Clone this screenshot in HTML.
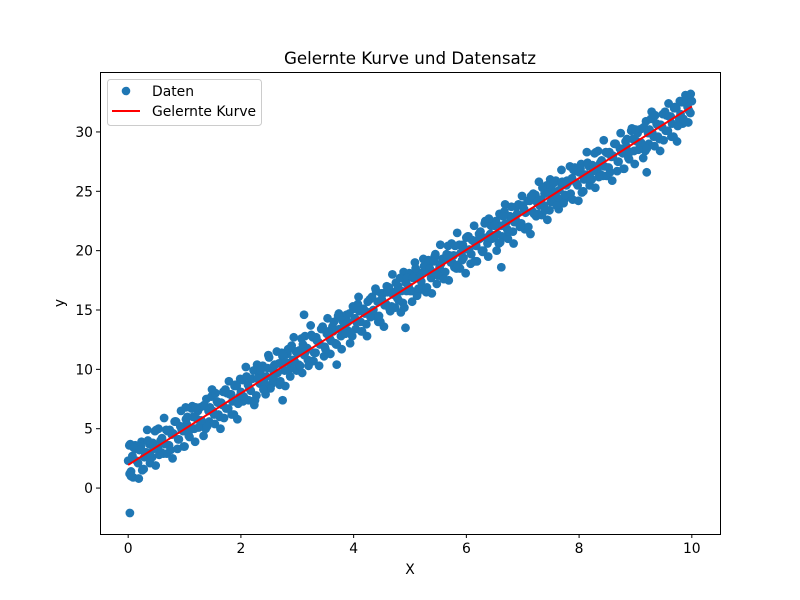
<!DOCTYPE html>
<html><head><meta charset="utf-8"><style>
body{margin:0;background:#fff;}
svg{display:block;font-family:"DejaVu Sans","Liberation Sans",sans-serif;}
</style></head><body>
<svg id="chart" width="800" height="600" viewBox="0 0 800 600">
<rect width="800" height="600" fill="#fff"/>
<text x="410" y="64" text-anchor="middle" font-size="16.7">Gelernte Kurve und Datensatz</text>
<g id="marks"></g>
<g id="axes"></g>
<rect x="100.5" y="72.5" width="620" height="462" fill="none" stroke="#000" stroke-width="1"/>
<text x="410" y="574" text-anchor="middle" font-size="13.9">X</text>
<text transform="translate(64,303) rotate(-90)" text-anchor="middle" font-size="13.9">y</text>
<g>
<rect x="107.5" y="79.5" width="154" height="46" rx="3" fill="#fff" fill-opacity="0.8" stroke="#ccc"/>
<circle cx="126" cy="91" r="4.3" fill="#1f77b4"/>
<text x="152" y="96" font-size="13.9">Daten</text>
<line x1="112" y1="111" x2="140" y2="111" stroke="red" stroke-width="2"/>
<text x="152" y="116" font-size="13.9">Gelernte Kurve</text>
</g>
</svg>
<script>
const xs=[0.00,0.05,0.10,0.15,0.20,0.25,0.30,0.35,0.40,0.45,0.50,0.55,0.60,0.65,0.70,0.75,0.80,0.85,0.90,0.95,1.00,1.05,1.10,1.15,1.20,1.25,1.30,1.35,1.40,1.45,1.50,1.55,1.60,1.65,1.70,1.75,1.80,1.85,1.90,1.95,2.00,2.05,2.10,2.15,2.20,2.25,2.30,2.35,2.40,2.45,2.50,2.55,2.60,2.65,2.70,2.75,2.80,2.85,2.90,2.95,3.00,3.05,3.10,3.15,3.20,3.25,3.30,3.35,3.40,3.45,3.50,3.55,3.60,3.65,3.70,3.75,3.80,3.85,3.90,3.95,4.00,4.05,4.10,4.15,4.20,4.25,4.30,4.35,4.40,4.45,4.50,4.55,4.60,4.65,4.70,4.75,4.80,4.85,4.90,4.95,5.00,5.05,5.10,5.15,5.20,5.25,5.30,5.35,5.40,5.45,5.50,5.55,5.60,5.65,5.70,5.75,5.80,5.85,5.90,5.95,6.00,6.05,6.10,6.15,6.20,6.25,6.30,6.35,6.40,6.45,6.50,6.55,6.60,6.65,6.70,6.75,6.80,6.85,6.90,6.95,7.00,7.05,7.10,7.15,7.20,7.25,7.30,7.35,7.40,7.45,7.50,7.55,7.60,7.65,7.70,7.75,7.80,7.85,7.90,7.95,8.00,8.05,8.10,8.15,8.20,8.25,8.30,8.35,8.40,8.45,8.50,8.55,8.60,8.65,8.70,8.75,8.80,8.85,8.90,8.95,9.00,9.05,9.10,9.15,9.20,9.25,9.30,9.35,9.40,9.45,9.50,9.55,9.60,9.65,9.70,9.75,9.80,9.85,9.90,9.95,10.00,0.03,3.12,3.70,4.92,6.62,9.20,2.74,0.02,0.05,1.02,9.98];
const ys=[2.3,1.4,3.4,2.3,3.2,1.5,3.0,4.0,2.7,3.3,4.9,2.8,4.2,3.7,4.8,3.2,4.6,5.6,4.1,4.9,3.5,6.0,4.9,6.0,6.8,5.1,5.7,7.0,5.2,6.8,6.5,8.0,6.2,7.2,5.9,8.0,7.9,7.3,8.7,7.1,8.1,7.7,9.4,8.4,9.2,7.4,9.2,9.9,8.3,9.4,11.0,9.3,10.4,9.7,9.0,11.2,10.6,9.9,12.0,10.7,11.4,10.3,12.1,11.5,10.3,12.9,11.4,12.4,12.1,13.6,11.7,13.2,12.4,14.0,12.1,13.4,14.1,13.0,14.0,13.1,15.1,14.0,14.9,13.2,14.7,15.7,14.4,15.0,16.6,14.5,15.9,15.4,16.5,14.9,16.3,17.3,15.8,16.6,15.2,17.7,16.6,17.7,18.5,16.8,17.4,18.7,16.9,18.5,18.2,19.7,17.9,18.9,17.6,19.7,19.6,19.0,20.4,18.8,19.8,19.4,21.1,20.1,20.9,19.1,20.9,21.6,20.0,21.1,22.7,21.0,22.1,21.4,20.7,22.9,22.3,21.6,23.7,22.4,23.1,22.0,23.8,23.2,22.0,24.6,23.1,24.1,23.8,25.3,23.4,24.9,24.1,25.7,23.8,25.1,25.8,24.7,25.7,24.8,26.8,25.7,26.6,24.9,26.4,27.4,26.1,26.7,28.3,26.2,27.6,27.1,28.2,26.6,28.0,29.0,27.5,28.3,26.9,29.4,28.3,29.4,30.2,28.5,29.1,30.4,28.6,30.2,29.9,31.4,29.6,30.6,29.3,31.4,31.3,30.7,32.1,30.5,31.5,31.1,32.8,31.8,32.6,-2.1,14.6,10.4,13.5,18.6,26.6,7.4,3.6,1.0,6.8,33.2];
const xsB=[0.025,0.075,0.125,0.175,0.225,0.275,0.325,0.375,0.425,0.475,0.525,0.575,0.625,0.675,0.725,0.775,0.825,0.875,0.925,0.975,1.025,1.075,1.125,1.175,1.225,1.275,1.325,1.375,1.425,1.475,1.525,1.575,1.625,1.675,1.725,1.775,1.825,1.875,1.925,1.975,2.025,2.075,2.125,2.175,2.225,2.275,2.325,2.375,2.425,2.475,2.525,2.575,2.625,2.675,2.725,2.775,2.825,2.875,2.925,2.975,3.025,3.075,3.125,3.175,3.225,3.275,3.325,3.375,3.425,3.475,3.525,3.575,3.625,3.675,3.725,3.775,3.825,3.875,3.925,3.975,4.025,4.075,4.125,4.175,4.225,4.275,4.325,4.375,4.425,4.475,4.525,4.575,4.625,4.675,4.725,4.775,4.825,4.875,4.925,4.975,5.025,5.075,5.125,5.175,5.225,5.275,5.325,5.375,5.425,5.475,5.525,5.575,5.625,5.675,5.725,5.775,5.825,5.875,5.925,5.975,6.025,6.075,6.125,6.175,6.225,6.275,6.325,6.375,6.425,6.475,6.525,6.575,6.625,6.675,6.725,6.775,6.825,6.875,6.925,6.975,7.025,7.075,7.125,7.175,7.225,7.275,7.325,7.375,7.425,7.475,7.525,7.575,7.625,7.675,7.725,7.775,7.825,7.875,7.925,7.975,8.025,8.075,8.125,8.175,8.225,8.275,8.325,8.375,8.425,8.475,8.525,8.575,8.625,8.675,8.725,8.775,8.825,8.875,8.925,8.975,9.025,9.075,9.125,9.175,9.225,9.275,9.325,9.375,9.425,9.475,9.525,9.575,9.625,9.675,9.725,9.775,9.825,9.875,9.925,9.975];
const ysB=[1.2,2.7,3.6,2.1,3.5,1.6,3.0,3.7,2.6,4.8,3.4,4.0,2.9,4.9,3.6,4.5,5.6,3.3,5.2,4.8,5.8,4.4,6.7,5.0,5.8,6.8,6.9,5.0,6.5,7.7,6.2,7.3,6.0,7.0,8.3,6.7,7.9,6.2,8.6,7.7,9.1,7.5,8.7,8.2,9.9,7.8,9.5,9.2,8.8,10.1,8.4,9.9,9.0,10.5,11.4,9.9,11.3,9.4,10.8,11.5,10.4,12.6,11.2,11.8,10.7,12.7,11.4,12.3,13.4,11.1,13.0,12.6,13.6,12.2,14.5,12.8,13.6,14.6,14.7,12.8,14.3,15.5,14.0,15.1,13.8,14.8,16.1,14.5,15.7,14.0,16.4,15.5,16.9,15.3,16.5,16.0,17.7,15.6,17.3,17.0,16.6,17.9,16.2,17.7,16.8,18.3,19.2,17.7,19.1,17.2,18.6,19.3,18.2,20.4,19.0,19.6,18.5,20.5,19.2,20.1,21.2,18.9,20.8,20.4,21.4,20.0,22.3,20.6,21.4,22.4,22.5,20.6,22.1,23.3,21.8,22.9,21.6,22.6,23.9,22.3,23.5,21.8,24.2,23.3,24.7,23.1,24.3,23.8,25.5,23.4,25.1,24.8,24.4,25.7,24.0,25.5,24.6,26.1,27.0,25.5,26.9,25.0,26.4,27.1,26.0,28.2,26.8,27.4,26.3,28.3,27.0,27.9,29.0,26.7,28.6,28.2,29.2,27.8,30.1,28.4,29.2,30.2,30.3,28.4,29.9,31.1,29.6,30.7,29.4,30.4,31.7,30.1,31.3,29.6,32.0,31.1,32.5,30.9,32.1,31.6];
const xsC=[0.0375,0.0875,0.1375,0.1875,0.2375,0.2875,0.3375,0.3875,0.4375,0.4875,0.5375,0.5875,0.6375,0.6875,0.7375,0.7875,0.8375,0.8875,0.9375,0.9875,1.0375,1.0875,1.1375,1.1875,1.2375,1.2875,1.3375,1.3875,1.4375,1.4875,1.5375,1.5875,1.6375,1.6875,1.7375,1.7875,1.8375,1.8875,1.9375,1.9875,2.0375,2.0875,2.1375,2.1875,2.2375,2.2875,2.3375,2.3875,2.4375,2.4875,2.5375,2.5875,2.6375,2.6875,2.7375,2.7875,2.8375,2.8875,2.9375,2.9875,3.0375,3.0875,3.1375,3.1875,3.2375,3.2875,3.3375,3.3875,3.4375,3.4875,3.5375,3.5875,3.6375,3.6875,3.7375,3.7875,3.8375,3.8875,3.9375,3.9875,4.0375,4.0875,4.1375,4.1875,4.2375,4.2875,4.3375,4.3875,4.4375,4.4875,4.5375,4.5875,4.6375,4.6875,4.7375,4.7875,4.8375,4.8875,4.9375,4.9875,5.0375,5.0875,5.1375,5.1875,5.2375,5.2875,5.3375,5.3875,5.4375,5.4875,5.5375,5.5875,5.6375,5.6875,5.7375,5.7875,5.8375,5.8875,5.9375,5.9875,6.0375,6.0875,6.1375,6.1875,6.2375,6.2875,6.3375,6.3875,6.4375,6.4875,6.5375,6.5875,6.6375,6.6875,6.7375,6.7875,6.8375,6.8875,6.9375,6.9875,7.0375,7.0875,7.1375,7.1875,7.2375,7.2875,7.3375,7.3875,7.4375,7.4875,7.5375,7.5875,7.6375,7.6875,7.7375,7.7875,7.8375,7.8875,7.9375,7.9875,8.0375,8.0875,8.1375,8.1875,8.2375,8.2875,8.3375,8.3875,8.4375,8.4875,8.5375,8.5875,8.6375,8.6875,8.7375,8.7875,8.8375,8.8875,8.9375,8.9875,9.0375,9.0875,9.1375,9.1875,9.2375,9.2875,9.3375,9.3875,9.4375,9.4875,9.5375,9.5875,9.6375,9.6875,9.7375,9.7875,9.8375,9.8875,9.9375,9.9875];
const ysC=[3.7,0.9,3.3,0.8,3.9,2.6,4.9,2.1,3.8,1.9,5.0,3.0,5.9,2.9,4.9,2.5,5.6,4.1,6.5,3.5,5.4,4.3,6.9,3.9,6.5,5.5,4.4,7.5,5.6,8.3,5.4,7.2,5.0,8.1,6.7,9.0,6.2,8.6,5.8,9.2,7.3,10.2,7.4,9.2,7.0,10.4,8.8,10.3,7.9,11.2,8.7,10.3,11.5,8.7,11.1,8.6,11.7,10.4,12.7,9.9,11.6,9.7,12.8,10.8,13.7,10.7,12.7,10.3,13.4,11.9,14.3,11.3,13.2,12.1,14.7,11.7,14.3,13.3,12.2,15.3,13.4,16.1,13.2,15.0,12.8,15.9,14.5,16.8,14.0,16.4,13.6,17.0,15.1,18.0,15.2,17.0,14.8,18.2,16.6,18.1,15.7,19.0,16.5,18.1,19.3,16.5,18.9,16.4,19.5,18.2,20.5,17.7,19.4,17.5,20.6,18.6,21.5,18.5,20.5,18.1,21.2,19.7,22.1,19.1,21.0,19.9,22.5,19.5,22.1,21.1,20.0,23.1,21.2,23.9,21.0,22.8,20.6,23.7,22.3,24.6,21.8,24.2,21.4,24.8,22.9,25.8,23.0,24.8,22.6,26.0,24.4,25.9,23.5,26.8,24.3,25.9,27.1,24.3,26.7,24.2,27.3,26.0,28.3,25.5,27.2,25.3,28.4,26.4,29.3,26.3,28.3,25.9,29.0,27.5,29.9,26.9,28.8,27.7,30.3,27.3,29.9,28.9,27.8,30.9,29.0,31.7,28.8,30.6,28.4,31.5,30.1,32.4,29.6,32.0,29.2,32.6,30.7,33.1,30.8,32.6];
const lineX=[0,10];
const lineY=[1.95,32.15];
const xTicks=[0,2,4,6,8,10];
const yTicks=[0,5,10,15,20,25,30];
const X0=100,X1=720,Y0=534,Y1=72,xmin=-0.5,xmax=10.5,ymin=-3.87,ymax=35.05;
const sx=v=>X0+(v-xmin)/(xmax-xmin)*(X1-X0);
const sy=v=>Y0-(v-ymin)/(ymax-ymin)*(Y0-Y1);
const NS='http://www.w3.org/2000/svg';
const marks=document.getElementById('marks'),axes=document.getElementById('axes');
function mk(t,a,p){const e=document.createElementNS(NS,t);for(const k in a)e.setAttribute(k,a[k]);p.appendChild(e);return e;}
function pts(X,Y){X.forEach((x,i)=>{const c=mk('circle',{cx:sx(x),cy:sy(Y[i]),r:4.4,fill:'#1f77b4'},marks);

});}
pts(xsC,ysC);
pts(xsB,ysB);
pts(xs,ys);
const ln=mk('line',{x1:sx(lineX[0]),y1:sy(lineY[0]),x2:sx(lineX[1]),y2:sy(lineY[1]),stroke:'red','stroke-width':2},marks);


xTicks.forEach(t=>{const x=sx(t);
const l=mk('line',{x1:x,y1:534,x2:x,y2:538,stroke:'#000'},axes);


const tx=mk('text',{x:x,y:553,'text-anchor':'middle','font-size':13.9},axes);tx.textContent=t;

});
yTicks.forEach(t=>{const y=sy(t);
const l=mk('line',{x1:96,y1:y,x2:100,y2:y,stroke:'#000'},axes);


const tx=mk('text',{x:93,y:y+5,'text-anchor':'end','font-size':13.9},axes);tx.textContent=t;

});
</script>
</body></html>
